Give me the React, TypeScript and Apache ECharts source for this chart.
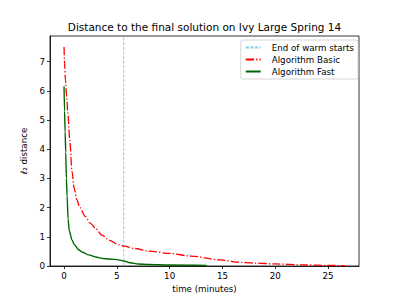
import React, { useEffect, useRef } from "react";
import * as echarts from "echarts";

const titleText = "Distance to the final solution on Ivy Large Spring 14";
const xTicks = [0, 5, 10, 15, 20, 25];
const yTicks = [0, 1, 2, 3, 4, 5, 6, 7];
const warmStartEnd = 5.65;

const basicT = [0, 0.05, 0.13, 0.25, 0.35, 0.54, 0.75, 0.95, 1.2, 1.5, 2.0, 2.5, 3.0, 3.58, 4.3, 5.16, 5.65, 6.73, 8, 10, 12, 14.8, 16.5, 18, 20, 22.5, 25, 26.6];
const basicV = [7.5, 6.95, 6.37, 5.8, 5.3, 4.32, 3.25, 2.68, 2.28, 2.0, 1.7, 1.46, 1.28, 1.06, 0.88, 0.73, 0.68, 0.6, 0.51, 0.43, 0.34, 0.21, 0.13, 0.1, 0.07, 0.04, 0.02, 0.01];

const fastT = [0, 0.05, 0.1, 0.16, 0.22, 0.29, 0.38, 0.5, 0.75, 1.0, 1.39, 1.8, 2.33, 3.0, 3.58, 4.3, 5.16, 5.65, 6.26, 7.04, 8, 10, 13.5];
const fastV = [6.15, 5.3, 4.6, 3.9, 3.0, 2.4, 1.6, 1.2, 0.89, 0.72, 0.55, 0.46, 0.38, 0.31, 0.26, 0.24, 0.21, 0.17, 0.11, 0.07, 0.05, 0.035, 0.02];

const xMin = -1.33;
const xMax = 27.93;
const yMin = 0;
const yMax = 7.875;

const FONT = "DejaVu Sans";

export default function App() {
  const ref = useRef<HTMLDivElement>(null);
  useEffect(() => {
    if (!ref.current) return;
    const chart = echarts.init(ref.current, undefined, { renderer: "svg" });
    const zip = (a: number[], b: number[]) => a.map((t, i) => [t, b[i]]);
    chart.setOption({
      animation: false,
      backgroundColor: "#ffffff",
      title: {
        text: titleText,
        left: 204.5,
        top: 21,
        padding: 0,
        textAlign: "center",
        textStyle: { fontFamily: FONT, fontSize: 10.5, fontWeight: "normal", color: "#000" },
      },
      grid: {
        left: 50,
        right: 40,
        top: 36,
        bottom: 33,
        show: true,
        borderColor: "#000",
        borderWidth: 0.8,
        backgroundColor: "transparent",
      },
      legend: {
        orient: "vertical",
        right: 41,
        top: 40,
        backgroundColor: "rgba(255,255,255,0.8)",
        borderColor: "#cccccc",
        borderWidth: 0.8,
        borderRadius: 2,
        padding: [3, 4, 3, 4],
        itemWidth: 15,
        itemHeight: 10,
        itemGap: 3,
        itemStyle: { opacity: 0 },
        textStyle: { fontFamily: FONT, fontSize: 8.7, color: "#000", padding: [0, 0, 0, 6] },
        data: ["End of warm starts", "Algorithm Basic", "Algorithm Fast"],
      },
      xAxis: {
        type: "value",
        min: xMin,
        max: xMax,
        name: "time (minutes)",
        nameLocation: "middle",
        nameGap: 16,
        nameTextStyle: { fontFamily: FONT, fontSize: 8.7, color: "#000" },
        splitLine: { show: false },
        axisLine: { show: true, onZero: false, lineStyle: { color: "#000", width: 0.8 } },
        axisTick: { show: true, inside: false, length: 3, lineStyle: { color: "#000", width: 0.8 }, customValues: xTicks },
        axisLabel: { fontFamily: FONT, fontSize: 8.7, color: "#000", margin: 5, customValues: xTicks },
      },
      yAxis: {
        type: "value",
        min: yMin,
        max: yMax,
        name: "ℓ₂ distance",
        nameLocation: "middle",
        nameGap: 13,
        nameRotate: 90,
        nameTextStyle: { fontFamily: FONT, fontSize: 8.7, color: "#000" },
        splitLine: { show: false },
        axisLine: { show: true, onZero: false, lineStyle: { color: "#000", width: 0.8 } },
        axisTick: { show: true, inside: false, length: 3, lineStyle: { color: "#000", width: 0.8 }, customValues: yTicks },
        axisLabel: { fontFamily: FONT, fontSize: 8.7, color: "#000", margin: 5, customValues: yTicks },
      },
      series: [
        {
          name: "End of warm starts",
          type: "line",
          symbol: "none",
          data: [[warmStartEnd, yMin], [warmStartEnd, yMax]],
          lineStyle: { color: "#87ceeb", width: 1, type: [3.2, 1.4] },
          itemStyle: { color: "#87ceeb" },
          z: 1,
        },
        {
          name: "Algorithm Basic",
          type: "line",
          symbol: "none",
          smooth: 0.3,
          smoothMonotone: "x",
          data: zip(basicT, basicV),
          lineStyle: { color: "#ff0000", width: 1.3, type: [8.3, 2.1, 1.3, 2.1] },
          itemStyle: { color: "#ff0000" },
          z: 2,
        },
        {
          name: "Algorithm Fast",
          type: "line",
          symbol: "none",
          smooth: 0.3,
          smoothMonotone: "x",
          data: zip(fastT, fastV),
          lineStyle: { color: "#006400", width: 1.4 },
          itemStyle: { color: "#006400" },
          z: 3,
        },
      ],
    });
    return () => chart.dispose();
  }, []);
  return (
    <div
      ref={ref}
      style={{ position: "fixed", left: 0, top: 0, width: 399, height: 299, background: "#fff" }}
    />
  );
}
